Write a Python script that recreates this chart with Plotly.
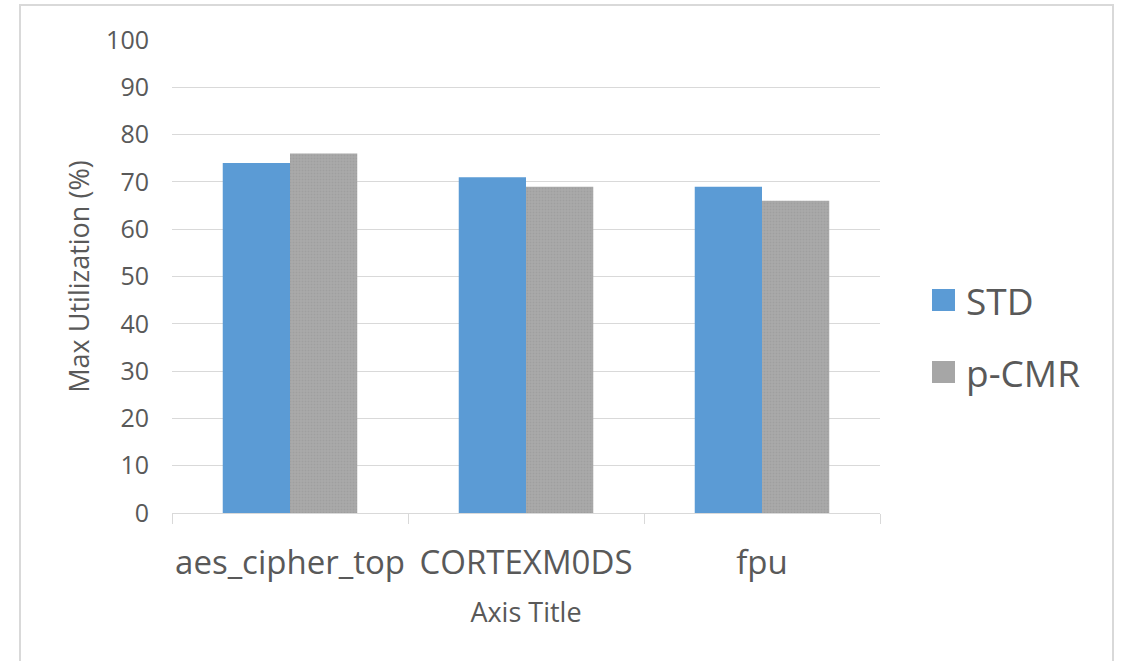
import plotly.graph_objects as go

categories = ["aes_cipher_top", "CORTEXM0DS", "fpu"]
std_values = [74, 71, 69]
pcmr_values = [76, 69, 66]
y_ticks = [0, 10, 20, 30, 40, 50, 60, 70, 80, 90, 100]
series_names = ["STD", "p-CMR"]
series_colors = ["#5b9bd5", "#a6a6a6"]

FONT = "Open Sans"
TXT = "#595959"

# plot area in pixels: x 172..880, y 40..513
def px(x):
    return (x - 172) / 708

def py(y):
    return (513 - y) / 473

fig = go.Figure()
fig.add_trace(go.Bar(
    x=categories, y=std_values, name=series_names[0], showlegend=False,
    marker=dict(color=series_colors[0], line=dict(width=0)),
))
fig.add_trace(go.Bar(
    x=categories, y=pcmr_values, name=series_names[1], showlegend=False,
    marker=dict(color=series_colors[1], line=dict(width=0),
                pattern=dict(shape=".", size=3, solidity=0.35,
                             fgcolor="#939393", bgcolor="#aaaaaa")),
))

shapes = [dict(type="rect", xref="paper", yref="paper",
               x0=px(20), x1=px(1113), y0=-0.5, y1=py(5),
               line=dict(color="#d9d9d9", width=2), layer="below")]
annotations = []
legend_y = [300, 372]
for name, color, cy in zip(series_names, series_colors, legend_y):
    shapes.append(dict(type="rect", xref="paper", yref="paper",
                       x0=px(932), x1=px(955), y0=py(cy + 11), y1=py(cy - 11),
                       fillcolor=color, line=dict(width=0)))
    annotations.append(dict(text=name, xref="paper", yref="paper",
                            x=px(964), y=py(cy), xanchor="left", yanchor="middle",
                            showarrow=False,
                            font=dict(size=37, color=TXT, family=FONT)))

fig.update_layout(
    width=1122, height=661,
    margin=dict(l=172, r=242, t=40, b=148),
    paper_bgcolor="white", plot_bgcolor="white",
    barmode="group", bargap=0.43, bargroupgap=0,
    font=dict(family=FONT, color=TXT),
    showlegend=False,
    xaxis=dict(
        showline=True, linecolor="#d9d9d9", linewidth=1,
        ticks="outside", tickson="boundaries", ticklen=10, tickcolor="#d9d9d9",
        tickfont=dict(size=33, color=TXT, family=FONT),
        tickangle=0, automargin=False,
        ticklabelstandoff=20,
        title=dict(text="Axis Title", font=dict(size=27, color=TXT, family=FONT), standoff=20),
        showgrid=False,
    ),
    yaxis=dict(
        range=[0, 100], tickvals=y_ticks, automargin=False,
        showgrid=True, gridcolor="#d9d9d9", gridwidth=1,
        zeroline=False, showline=False, ticks="",
        tickfont=dict(size=25, color=TXT, family=FONT),
        ticklabelstandoff=22,
        title=dict(text="Max Utilization (%)", font=dict(size=27, color=TXT, family=FONT), standoff=8),
    ),
    shapes=shapes,
    annotations=annotations,
)

fig.write_html("out.html")
